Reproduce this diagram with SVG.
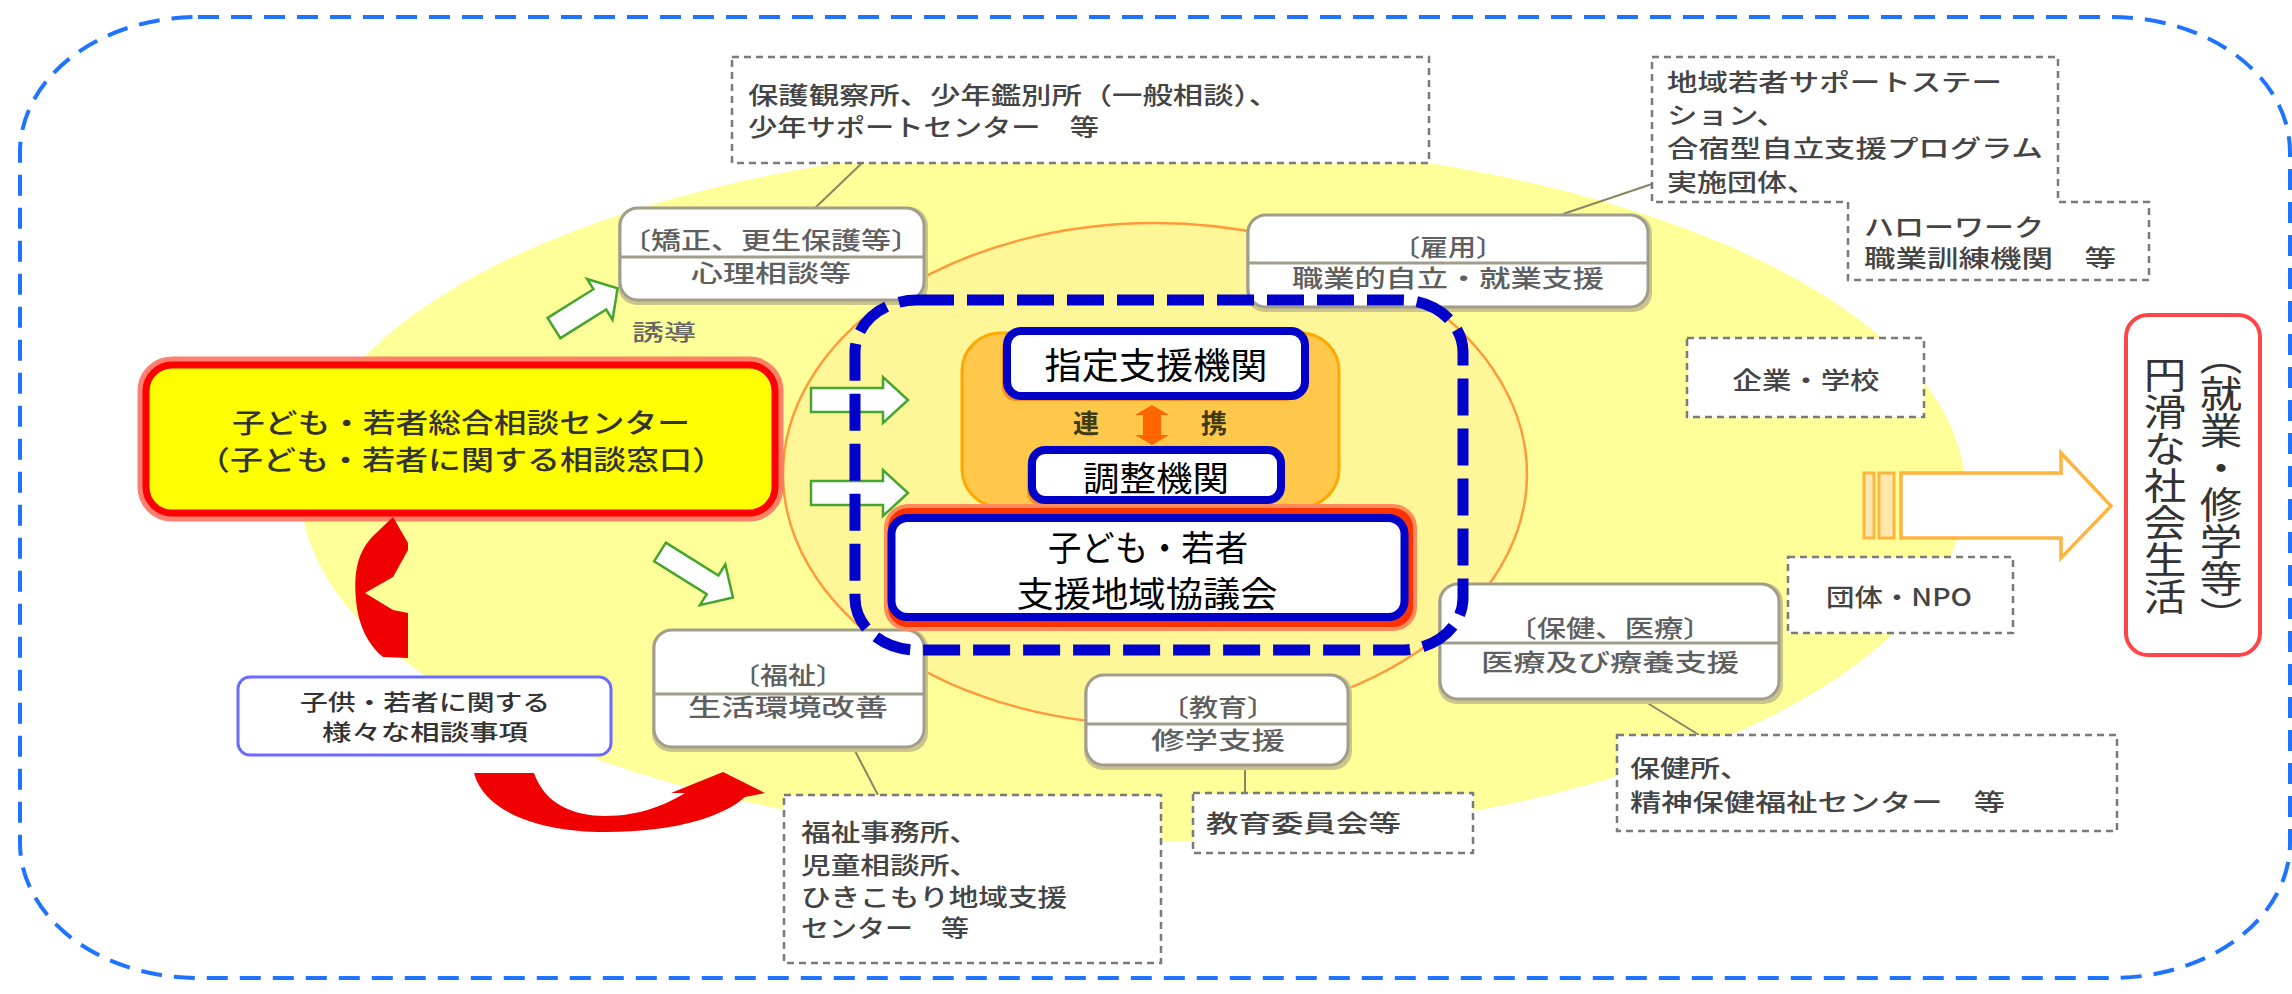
<svg xmlns="http://www.w3.org/2000/svg" width="2292" height="994" viewBox="0 0 2292 994">
<style>
text { font-family: "Noto Sans CJK JP", "Noto Sans", sans-serif; }
.dbox { fill:#fff; stroke:#7a7a7a; stroke-width:2.5; stroke-dasharray:7 5; }
.dt { font-size:24px; fill:#444; font-weight:500; }
.gbox { fill:#fff; stroke:#a19d8b; stroke-width:3; }
.gsh { fill:#cbc58c; }
.gdiv { stroke:#a19d8b; stroke-width:3; }
.nt { font-size:24px; fill:#5f5f5f; text-anchor:middle; font-weight:500; }
.conn { stroke:#8a8462; stroke-width:2; fill:none; }
.garrow { fill:#fff; stroke:#45a52e; stroke-width:2.5; }
.bbox { fill:#fff; stroke:#0000c8; stroke-width:8; }
.bsh { fill:#ff8c1a; }
.bt { font-size:35px; fill:#000; text-anchor:middle; }
.red { fill:#f00000; }
</style>

<g id="outer-border">
<path d="M198,17 H2112 A178,135 0 0 1 2290,152 V843 A178,135 0 0 1 2112,978 H198 A178,135 0 0 1 20,843 V152 A178,135 0 0 1 198,17 Z" fill="none" stroke="#1f74ff" stroke-width="4" stroke-dasharray="21 12"/>
</g>

<g id="background">
<ellipse cx="1133" cy="491" rx="832" ry="351" fill="#FFFF99"/>
<ellipse cx="1155" cy="474" rx="372" ry="251" fill="#FFF698" stroke="#FF9A3C" stroke-width="2.5"/>
</g>

<g id="connectors">
<line class="conn" x1="861" y1="164" x2="815" y2="208"/>
<line class="conn" x1="1563" y1="214" x2="1652" y2="184"/>
<line class="conn" x1="853" y1="747" x2="878" y2="795"/>
<line class="conn" x1="1245" y1="765" x2="1245" y2="793"/>
<line class="conn" x1="1641" y1="699" x2="1699" y2="735"/>
</g>

<g id="box-hogo">
<rect class="dbox" x="732" y="57" width="697" height="106"/>
<text class="dt" x="748" y="104" textLength="531" lengthAdjust="spacingAndGlyphs">保護観察所、少年鑑別所（一般相談）、</text>
<text class="dt" x="748" y="136" textLength="351" lengthAdjust="spacingAndGlyphs">少年サポートセンター　等</text>
</g>

<g id="box-chiiki">
<path class="dbox" d="M1652,57 H2058 V202 H2149 V280 H1848 V202 H1652 Z"/>
<text class="dt" x="1667" y="91" textLength="335" lengthAdjust="spacingAndGlyphs">地域若者サポートステー</text>
<text class="dt" x="1667" y="124" textLength="120" lengthAdjust="spacingAndGlyphs">ション、</text>
<text class="dt" x="1667" y="157" textLength="376" lengthAdjust="spacingAndGlyphs">合宿型自立支援プログラム</text>
<text class="dt" x="1667" y="191" textLength="150" lengthAdjust="spacingAndGlyphs">実施団体、</text>
<text class="dt" x="1864" y="236" textLength="180" lengthAdjust="spacingAndGlyphs">ハローワーク</text>
<text class="dt" x="1864" y="267" textLength="252" lengthAdjust="spacingAndGlyphs">職業訓練機関　等</text>
</g>

<g id="box-kigyo">
<rect class="dbox" x="1687" y="338" width="237" height="79"/>
<text class="dt" x="1806" y="389" text-anchor="middle" textLength="147" lengthAdjust="spacingAndGlyphs">企業・学校</text>
</g>

<g id="box-dantai">
<rect class="dbox" x="1788" y="557" width="225" height="76"/>
<text class="dt" x="1899" y="606" text-anchor="middle" textLength="146" lengthAdjust="spacingAndGlyphs">団体・NPO</text>
</g>

<g id="box-fukushijimusho">
<rect class="dbox" x="784" y="795" width="377" height="168"/>
<text class="dt" x="801" y="841" textLength="178" lengthAdjust="spacingAndGlyphs">福祉事務所、</text>
<text class="dt" x="801" y="874" textLength="178" lengthAdjust="spacingAndGlyphs">児童相談所、</text>
<text class="dt" x="801" y="906" textLength="266" lengthAdjust="spacingAndGlyphs">ひきこもり地域支援</text>
<text class="dt" x="801" y="937" textLength="168" lengthAdjust="spacingAndGlyphs">センター　等</text>
</g>

<g id="box-kyoikuiinkai">
<rect class="dbox" x="1193" y="793" width="280" height="60"/>
<text class="dt" x="1206" y="832" textLength="195" lengthAdjust="spacingAndGlyphs">教育委員会等</text>
</g>

<g id="box-hokenjo">
<rect class="dbox" x="1617" y="735" width="500" height="96"/>
<text class="dt" x="1630" y="777" textLength="120" lengthAdjust="spacingAndGlyphs">保健所、</text>
<text class="dt" x="1630" y="811" textLength="375" lengthAdjust="spacingAndGlyphs">精神保健福祉センター　等</text>
</g>

<g id="node-kyosei">
<rect class="gsh" x="618" y="207" width="310" height="98" rx="19"/>
<rect class="gbox" x="620" y="208" width="304" height="92" rx="18"/>
<line class="gdiv" x1="620" y1="257" x2="924" y2="257"/>
<text class="nt" x="771" y="249" textLength="300" lengthAdjust="spacingAndGlyphs">〔矯正、更生保護等〕</text>
<text class="nt" x="771" y="282" textLength="160" lengthAdjust="spacingAndGlyphs">心理相談等</text>
</g>

<g id="node-koyo">
<rect class="gsh" x="1246" y="214" width="406" height="98" rx="19"/>
<rect class="gbox" x="1248" y="215" width="400" height="92" rx="18"/>
<line class="gdiv" x1="1248" y1="263" x2="1648" y2="263"/>
<text class="nt" x="1448" y="256" textLength="112" lengthAdjust="spacingAndGlyphs">〔雇用〕</text>
<text class="nt" x="1448" y="287" textLength="312" lengthAdjust="spacingAndGlyphs">職業的自立・就業支援</text>
</g>

<g id="node-fukushi">
<rect class="gsh" x="652" y="629" width="276" height="123" rx="19"/>
<rect class="gbox" x="654" y="630" width="270" height="117" rx="18"/>
<line class="gdiv" x1="654" y1="694" x2="924" y2="694"/>
<text class="nt" x="788" y="684" textLength="112" lengthAdjust="spacingAndGlyphs">〔福祉〕</text>
<text class="nt" x="788" y="716" textLength="200" lengthAdjust="spacingAndGlyphs">生活環境改善</text>
</g>

<g id="node-kyoiku">
<rect class="gsh" x="1084" y="674" width="268" height="96" rx="19"/>
<rect class="gbox" x="1086" y="675" width="262" height="90" rx="18"/>
<line class="gdiv" x1="1086" y1="724" x2="1348" y2="724"/>
<text class="nt" x="1218" y="716" textLength="116" lengthAdjust="spacingAndGlyphs">〔教育〕</text>
<text class="nt" x="1218" y="749" textLength="134" lengthAdjust="spacingAndGlyphs">修学支援</text>
</g>

<g id="node-hoken">
<rect class="gsh" x="1438" y="583" width="345" height="121" rx="19"/>
<rect class="gbox" x="1440" y="584" width="339" height="115" rx="18"/>
<line class="gdiv" x1="1440" y1="643" x2="1779" y2="643"/>
<text class="nt" x="1610" y="637" textLength="205" lengthAdjust="spacingAndGlyphs">〔保健、医療〕</text>
<text class="nt" x="1610" y="671" textLength="258" lengthAdjust="spacingAndGlyphs">医療及び療養支援</text>
</g>

<g id="node-center">
<rect x="146" y="365" width="629" height="148" rx="26" fill="none" stroke="#FF6A5A" stroke-width="17" opacity="0.85"/>
<rect x="146" y="365" width="629" height="148" rx="26" fill="#FFFF00" stroke="#FF0000" stroke-width="7"/>
<text x="461" y="433" font-size="27" fill="#333" font-weight="500" text-anchor="middle" textLength="458" lengthAdjust="spacingAndGlyphs">子ども・若者総合相談センター</text>
<text x="461" y="470" font-size="27" fill="#333" font-weight="500" text-anchor="middle" textLength="528" lengthAdjust="spacingAndGlyphs">（子ども・若者に関する相談窓口）</text>
</g>

<g id="node-soudan">
<rect x="238" y="677" width="373" height="78" rx="12" fill="#fff" stroke="#6B6BFF" stroke-width="3"/>
<text x="425" y="710" font-size="22" fill="#333" font-weight="500" text-anchor="middle" textLength="250" lengthAdjust="spacingAndGlyphs">子供・若者に関する</text>
<text x="425" y="740" font-size="22" fill="#333" font-weight="500" text-anchor="middle" textLength="206" lengthAdjust="spacingAndGlyphs">様々な相談事項</text>
</g>

<g id="red-arrows">
<path class="red" d="M393,517 L408,543 L408,550 L393,577 L365,593 L393,610 L408,613 L408,658 L383,657 C368,645 358,625 356,600 C354,575 356,555 372,537 Z"/>
<path class="red" d="M474,773 L534,773 C545,805 575,816 605,816 C640,816 665,805 685,793 L671,793 L723,772 L765,793 L745,797 C725,815 680,832 605,832 C540,832 484,812 474,773 Z"/>
</g>

<g id="core">
<rect x="962" y="333" width="377" height="174" rx="38" fill="#FFC84B" stroke="#FFA800" stroke-width="3"/>
<g id="node-shitei">
<rect class="bsh" x="1002" y="335" width="298" height="66" rx="14"/>
<rect class="bbox" x="1007" y="331" width="298" height="65" rx="14"/>
<text x="1156" y="379" font-size="36" fill="#000" text-anchor="middle" textLength="223" lengthAdjust="spacingAndGlyphs">指定支援機関</text>
</g>
<g id="renkei">
<text x="1086" y="433" font-size="26" font-weight="bold" fill="#403A10" text-anchor="middle">連</text>
<text x="1214" y="433" font-size="26" font-weight="bold" fill="#403A10" text-anchor="middle">携</text>
<path d="M1152,405 L1169,415 L1161,415 L1161,435 L1169,435 L1152,445 L1135,435 L1143,435 L1143,415 L1135,415 Z" fill="#FF6600"/>
</g>
<g id="node-chosei">
<rect class="bsh" x="1027" y="454" width="249" height="51" rx="13"/>
<rect class="bbox" x="1032" y="450" width="249" height="50" rx="13"/>
<text x="1156" y="491" font-size="34" fill="#000" text-anchor="middle" textLength="146" lengthAdjust="spacingAndGlyphs">調整機関</text>
</g>
<g id="node-kyogikai">
<rect x="886" y="506" width="529" height="123" rx="22" fill="#FF3300" stroke="#FF8A5C" stroke-width="4"/>
<rect class="bbox" x="891.5" y="518" width="513" height="99" rx="16" stroke-width="9.5"/>
<text class="bt" x="1148" y="561" textLength="200" lengthAdjust="spacingAndGlyphs">子ども・若者</text>
<text class="bt" x="1147" y="607" textLength="261" lengthAdjust="spacingAndGlyphs">支援地域協議会</text>
</g>
</g>

<g id="green-arrows">
<path class="garrow" d="M0,-12 H54 V-24 L75,0 L54,24 V12 H0 Z" transform="translate(554,328) rotate(-32)"/>
<path class="garrow" d="M811,388 H883 V377 L908,400 L883,423 V412 H811 Z"/>
<path class="garrow" d="M811,481 H883 V470 L908,493 L883,516 V505 H811 Z"/>
<path class="garrow" d="M0,-11 H62 V-24 L86,0 L62,24 V11 H0 Z" transform="translate(660,552) rotate(32)"/>
<text x="632" y="340" font-size="22" fill="#666" font-weight="500" textLength="64" lengthAdjust="spacingAndGlyphs">誘導</text>
</g>

<g id="blue-dashed-frame">
<rect x="855" y="300" width="608" height="350" rx="62" ry="52" fill="none" stroke="#0000CC" stroke-width="11" stroke-dasharray="37 13"/>
</g>

<g id="big-arrow">
<rect x="1864" y="473" width="10" height="65" fill="#FFE7B0" stroke="#FFB440" stroke-width="3"/>
<rect x="1879" y="473" width="15" height="65" fill="#FFE7B0" stroke="#FFB440" stroke-width="3"/>
<path d="M1901,473 H2061 V453 L2111,506 L2061,558 V538 H1901 Z" fill="#fff" stroke="#FFB440" stroke-width="3.5"/>
</g>

<g id="node-goal">
<rect x="2126" y="315" width="134" height="340" rx="22" fill="#fff" stroke="#FF4545" stroke-width="4"/>
<g transform="translate(2221 0) scale(1.15 1) translate(-2221 0)">
<text x="2221" y="486" font-size="37" fill="#333" text-anchor="middle" style="writing-mode:vertical-rl">（就業・修学等）</text>
</g>
<g transform="translate(2165 0) scale(1.15 1) translate(-2165 0)">
<text x="2165" y="486" font-size="37" fill="#333" text-anchor="middle" style="writing-mode:vertical-rl">円滑な社会生活</text>
</g>
</g>
</svg>
